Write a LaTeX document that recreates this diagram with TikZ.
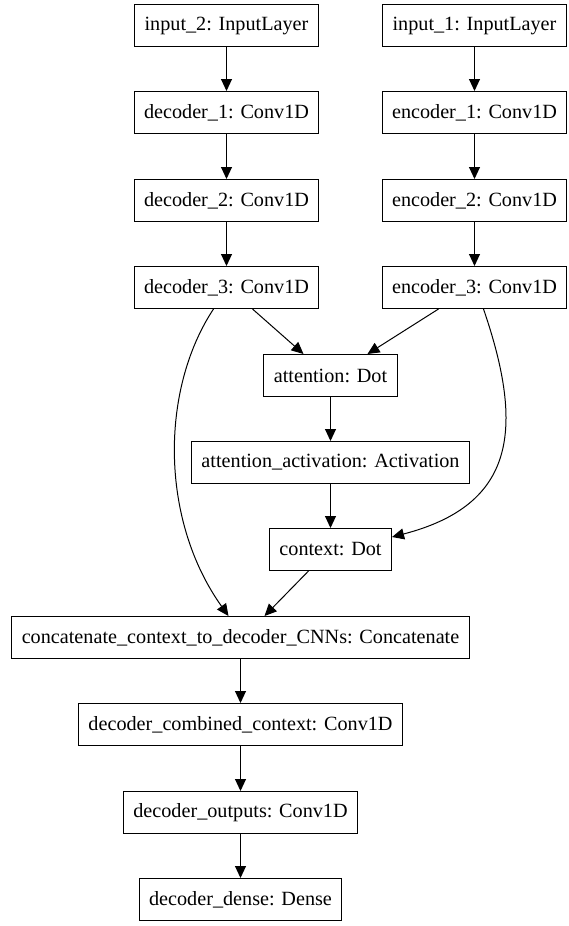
\documentclass[tikz,border=0pt]{standalone}
\usepackage{fontspec}
\setmainfont{Liberation Serif}
\usetikzlibrary{arrows.meta,positioning}

\begin{document}
\begin{tikzpicture}[x=1pt,y=-1pt,
    capa/.style={draw,line width=1pt,minimum height=42pt,inner xsep=10pt,
      font=\fontsize{20.2}{24}\selectfont},
    flecha/.style={-{Triangle[length=12pt,width=11pt]},line width=1pt}]
    \useasboundingbox (0,0) rectangle (569,926);
    \node[capa] (in2) at (226.5,25.5) {input\_2: InputLayer};
    \node[capa] (in1) at (474.5,25.5) {input\_1: InputLayer};
    \node[capa] (dec1) at (226.5,112.5) {decoder\_1: Conv1D};
    \node[capa] (enc1) at (474.5,112.5) {encoder\_1: Conv1D};
    \node[capa] (dec2) at (226.5,200.5) {decoder\_2: Conv1D};
    \node[capa] (enc2) at (474.5,200.5) {encoder\_2: Conv1D};
    \node[capa] (dec3) at (226.5,287.5) {decoder\_3: Conv1D};
    \node[capa] (enc3) at (474.5,287.5) {encoder\_3: Conv1D};
    \node[capa] (att) at (330.5,375.5) {attention: Dot};
    \node[capa] (attact) at (330.5,462.5) {attention\_activation: Activation};
    \node[capa] (ctx) at (330.5,549.5) {context: Dot};
    \node[capa] (concat) at (240.5,637.5)
      {concatenate\_context\_to\_decoder\_CNNs: Concatenate};
    \node[capa] (comb) at (240.5,724.5) {decoder\_combined\_context: Conv1D};
    \node[capa] (outs) at (240.5,812.5) {decoder\_outputs: Conv1D};
    \node[capa] (dense) at (240.5,899.5) {decoder\_dense: Dense};

    \draw[flecha] (in2) -- (dec1);
    \draw[flecha] (dec1) -- (dec2);
    \draw[flecha] (dec2) -- (dec3);
    \draw[flecha] (in1) -- (enc1);
    \draw[flecha] (enc1) -- (enc2);
    \draw[flecha] (enc2) -- (enc3);
    \draw[flecha] ([xshift=26pt]dec3.south) -- ([xshift=-27pt]att.north);
    \draw[flecha] ([xshift=-36pt]enc3.south) -- ([xshift=37pt]att.north);
    \draw[flecha] (att) -- (attact);
    \draw[flecha] (attact) -- (ctx);
    \draw[flecha] ([xshift=-13pt]dec3.south)
      .. controls (160,390) and (160,520) .. ([xshift=-12pt]concat.north);
    \draw[flecha] ([xshift=9pt]enc3.south)
      .. controls (525,430) and (515,505) .. ([yshift=-9pt]ctx.north east);
    \draw[flecha] ([xshift=-22pt]ctx.south) -- ([xshift=24pt]concat.north);
    \draw[flecha] (concat) -- (comb);
    \draw[flecha] (comb) -- (outs);
    \draw[flecha] (outs) -- (dense);
\end{tikzpicture}
\end{document}
